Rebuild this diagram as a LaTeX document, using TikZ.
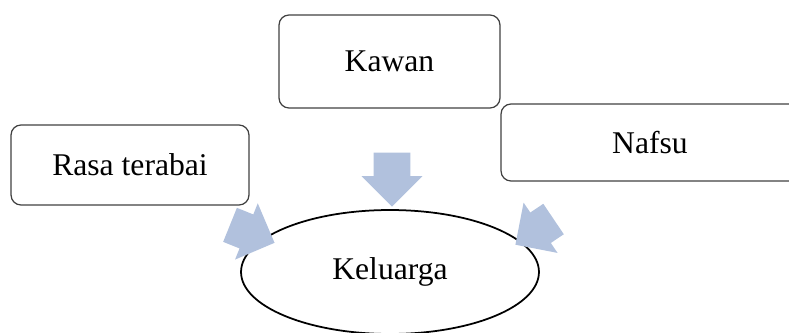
\documentclass[tikz,border=0pt]{standalone}
\usepackage{fontspec}
\setmainfont{Liberation Serif}
\usepackage{tikz}
\usetikzlibrary{shapes.geometric,shapes.arrows}
\definecolor{biru}{RGB}{177,193,221}
\tikzstyle{kotak}=[rectangle,rounded corners=.2cm,draw=black!75,line width=.7pt,inner sep=0pt,font=\fontsize{18}{22}\selectfont]
\tikzstyle{elips}=[ellipse,draw=black,line width=1pt,inner sep=0pt,font=\fontsize{18}{22}\selectfont]
\tikzstyle{panah}=[single arrow,fill=biru,draw=none,inner xsep=0pt,inner ysep=.36cm,single arrow head extend=.24cm,anchor=tip]

\begin{document}
\begin{tikzpicture}[x=.02cm,y=-.02cm]
\clip (0,0) rectangle (789,332);
\node[kotak,minimum width=4.42cm,minimum height=1.86cm] (kawan) at (389.5,61.5) {Kawan};
\node[kotak,minimum width=4.76cm,minimum height=1.6cm] (rasa) at (130,165) {Rasa terabai};
\node[kotak,minimum width=5.96cm,minimum height=1.54cm] (nafsu) at (650,142.5) {Nafsu};
\node[elips,minimum width=5.96cm,minimum height=2.48cm] (keluarga) at (390,272) {Keluarga};
\node[panah,minimum height=1.08cm,rotate=-90] (p1) at (392,207) {};
\node[panah,minimum height=.96cm,rotate=-22] (p2) at (275,243) {};
\node[panah,minimum height=.92cm,rotate=-146] (p3) at (515,245) {};
\end{tikzpicture}
\end{document}
